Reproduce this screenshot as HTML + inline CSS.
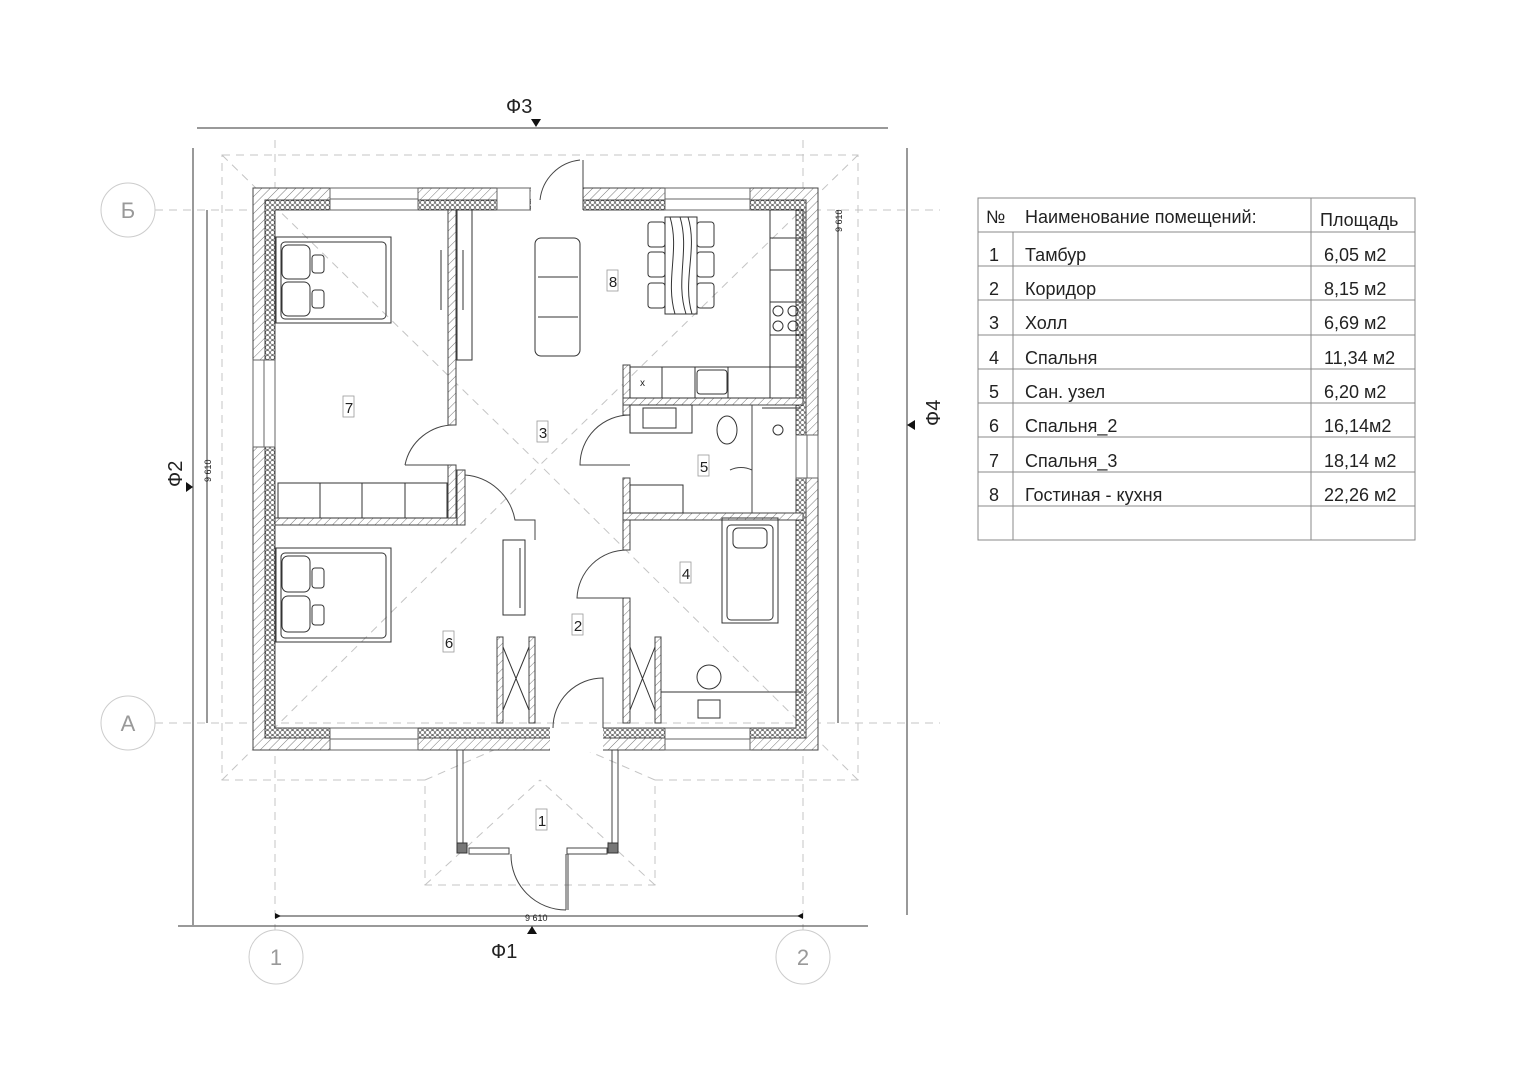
<!DOCTYPE html>
<html><head><meta charset="utf-8"><style>
html,body{margin:0;padding:0;background:#fff;}
svg{display:block;}
text{font-family:"Liberation Sans","DejaVu Sans",sans-serif;fill:#222;}
</style></head><body>
<svg width="1528" height="1080" viewBox="0 0 1528 1080" xmlns="http://www.w3.org/2000/svg">
<defs>
<pattern id="h" width="6" height="6" patternUnits="userSpaceOnUse" patternTransform="rotate(45)">
<rect width="6" height="6" fill="#fff"/><line x1="0" y1="0" x2="0" y2="6" stroke="#555" stroke-width="0.8"/></pattern>
<pattern id="ins" width="5" height="5" patternUnits="userSpaceOnUse">
<rect width="5" height="5" fill="#fff"/><circle cx="2.5" cy="2.5" r="2" fill="none" stroke="#444" stroke-width="0.7"/></pattern>
</defs>
<g fill="none" stroke="#c4c4c4" stroke-width="1" stroke-dasharray="8,6">
<polygon points="222,155 858,155 858,780 655,780 655,885 425,885 425,780 222,780"/>
<line x1="222" y1="155" x2="540" y2="465"/><line x1="858" y1="155" x2="540" y2="465"/>
<line x1="222" y1="780" x2="540" y2="465"/><line x1="858" y1="780" x2="540" y2="465"/>
<line x1="425" y1="885" x2="540" y2="780"/><line x1="655" y1="885" x2="540" y2="780"/>
<line x1="425" y1="780" x2="540" y2="730"/><line x1="655" y1="780" x2="540" y2="730"/>
<line x1="155" y1="210" x2="940" y2="210"/><line x1="155" y1="723" x2="940" y2="723"/>
<line x1="275" y1="140" x2="275" y2="930"/><line x1="803" y1="140" x2="803" y2="930"/>
</g>
<g fill="none" stroke="#333" stroke-width="1">
<line x1="197" y1="128" x2="888" y2="128"/><line x1="193" y1="148" x2="193" y2="925"/>
<line x1="178" y1="926" x2="868" y2="926"/><line x1="907" y1="148" x2="907" y2="915"/>
<line x1="207" y1="210" x2="207" y2="723"/><line x1="838" y1="210" x2="838" y2="723"/>
<line x1="275" y1="916" x2="803" y2="916"/>
</g>
<g fill="#111">
<polygon points="531,119 541,119 536,127"/><polygon points="186,482 186,492 193,487"/>
<polygon points="527,934 537,934 532,926"/><polygon points="915,420 915,430 907,425"/>
<polygon points="275,913 281,916 275,919"/><polygon points="803,913 797,916 803,919"/>
</g>
<g fill="none" stroke="#ccc" stroke-width="1">
<circle cx="128" cy="210" r="27"/><circle cx="128" cy="723" r="27"/>
<circle cx="276" cy="957" r="27"/><circle cx="803" cy="957" r="27"/>
</g>
<g font-size="22" text-anchor="middle">
<text x="128" y="218" style="fill:#999">Б</text><text x="128" y="731" style="fill:#999">А</text>
<text x="276" y="965" style="fill:#999">1</text><text x="803" y="965" style="fill:#999">2</text>
</g>
<g font-size="20">
<text x="506" y="113">Ф3</text><text x="491" y="958">Ф1</text>
<text transform="translate(182,487) rotate(-90)">Ф2</text>
<text transform="translate(940,426) rotate(-90)">Ф4</text>
</g>
<g font-size="9">
<text x="525" y="921">9 610</text>
<text transform="translate(211,482) rotate(-90)">9 610</text>
<text transform="translate(842,232) rotate(-90)">9 610</text>
</g>
<g stroke="#444" stroke-width="1">
<path fill="url(#h)" fill-rule="evenodd" d="M253,188 H818 V750 H253 Z M265,200 H806 V738 H265 Z"/>
<path fill="url(#ins)" fill-rule="evenodd" d="M265,200 H806 V738 H265 Z M275,210 H796 V728 H275 Z"/>
</g>
<g fill="#fff" stroke="#666" stroke-width="1">
<rect x="330" y="188" width="88" height="22"/><rect x="665" y="188" width="85" height="22"/>
<rect x="497" y="188" width="33" height="22"/>
<rect x="330" y="728" width="88" height="22"/><rect x="665" y="728" width="85" height="22"/>
<rect x="253" y="360" width="22" height="87"/><rect x="796" y="435" width="22" height="43"/>
</g>
<g stroke="#666" stroke-width="1">
<line x1="330" y1="199" x2="418" y2="199"/><line x1="665" y1="199" x2="750" y2="199"/>
<line x1="330" y1="739" x2="418" y2="739"/><line x1="665" y1="739" x2="750" y2="739"/>
<line x1="264" y1="360" x2="264" y2="447"/><line x1="807" y1="435" x2="807" y2="478"/>
</g>
<rect x="531" y="186" width="52" height="26" fill="#fff"/>
<rect x="550" y="726" width="53" height="26" fill="#fff"/>
<g fill="url(#h)" stroke="#444" stroke-width="1">
<rect x="448" y="210" width="8" height="215"/><rect x="448" y="465" width="8" height="53"/>
<rect x="275" y="518" width="190" height="7"/><rect x="457" y="470" width="8" height="55"/>
<rect x="497" y="637" width="6" height="86"/><rect x="529" y="637" width="6" height="86"/>
<rect x="623" y="365" width="7" height="50"/><rect x="623" y="478" width="7" height="72"/>
<rect x="623" y="598" width="7" height="125"/><rect x="655" y="637" width="6" height="86"/>
<rect x="623" y="398" width="180" height="7"/><rect x="623" y="513" width="180" height="7"/>
</g>
<g stroke="#444" fill="none" stroke-width="1">
<line x1="457" y1="750" x2="457" y2="848"/><line x1="463" y1="750" x2="463" y2="848"/>
<line x1="612" y1="750" x2="612" y2="848"/><line x1="618" y1="750" x2="618" y2="848"/>
<rect x="469" y="848" width="40" height="6"/><rect x="567" y="848" width="40" height="6"/>
<line x1="566" y1="854" x2="566" y2="910"/><line x1="568" y1="854" x2="568" y2="910"/>
<path d="M511,854 A55,55 0 0 0 566,910"/>
<path d="M553,728 A50,50 0 0 1 603,678 L603,728"/>
<line x1="583" y1="160" x2="583" y2="210"/><path d="M540,200 A45,45 0 0 1 580,160"/>
<path d="M405,465 A50,50 0 0 1 455,425"/><line x1="405" y1="465" x2="455" y2="465"/>
<path d="M465,475 A55,55 0 0 1 515,520 L535,520 L535,540"/>
<path d="M630,415 A50,50 0 0 0 580,465 L630,465"/>
<path d="M627,550 A50,50 0 0 0 577,598 L627,598"/>
<path d="M730,470 A25,25 0 0 1 752,470 L752,505"/>
<line x1="752" y1="405" x2="752" y2="513"/>
</g>
<g fill="#777" stroke="#333"><rect x="457" y="843" width="10" height="10"/><rect x="608" y="843" width="10" height="10"/></g>
<g fill="none" stroke="#333" stroke-width="1">
<rect x="276" y="237" width="115" height="86"/><rect x="281" y="242" width="105" height="77" rx="4"/>
<rect x="282" y="245" width="28" height="34" rx="6"/><rect x="282" y="282" width="28" height="34" rx="6"/>
<rect x="312" y="255" width="12" height="18" rx="3"/><rect x="312" y="290" width="12" height="18" rx="3"/>
<rect x="276" y="548" width="115" height="94"/><rect x="281" y="553" width="105" height="85" rx="4"/>
<rect x="282" y="556" width="28" height="36" rx="6"/><rect x="282" y="596" width="28" height="36" rx="6"/>
<rect x="312" y="568" width="12" height="20" rx="3"/><rect x="312" y="605" width="12" height="20" rx="3"/>
<rect x="722" y="518" width="56" height="105"/><rect x="727" y="525" width="46" height="95" rx="4"/>
<rect x="733" y="528" width="34" height="20" rx="5"/>
<rect x="278" y="483" width="169" height="35"/>
<line x1="320" y1="483" x2="320" y2="518"/><line x1="362" y1="483" x2="362" y2="518"/><line x1="405" y1="483" x2="405" y2="518"/>
<rect x="457" y="210" width="15" height="150"/>
<line x1="441" y1="250" x2="441" y2="310"/><line x1="463" y1="250" x2="463" y2="310"/>
<rect x="535" y="238" width="45" height="118" rx="6"/><line x1="538" y1="277" x2="578" y2="277"/><line x1="538" y1="317" x2="578" y2="317"/>
<rect x="665" y="217" width="32" height="97"/>
<path d="M670,217 C680,250 665,280 675,314 M680,217 C690,250 675,280 686,314 M688,217 C698,250 682,280 692,314"/>
<rect x="648" y="222" width="17" height="25" rx="3"/><rect x="648" y="252" width="17" height="25" rx="3"/><rect x="648" y="283" width="17" height="25" rx="3"/>
<rect x="697" y="222" width="17" height="25" rx="3"/><rect x="697" y="252" width="17" height="25" rx="3"/><rect x="697" y="283" width="17" height="25" rx="3"/>
<rect x="770" y="210" width="33" height="188"/>
<line x1="770" y1="238" x2="803" y2="238"/><line x1="770" y1="270" x2="803" y2="270"/><line x1="770" y1="302" x2="803" y2="302"/><line x1="770" y1="335" x2="803" y2="335"/><line x1="770" y1="367" x2="803" y2="367"/>
<circle cx="778" cy="311" r="5"/><circle cx="793" cy="311" r="5"/><circle cx="778" cy="326" r="5"/><circle cx="793" cy="326" r="5"/>
<rect x="630" y="367" width="140" height="31"/>
<line x1="662" y1="367" x2="662" y2="398"/><line x1="695" y1="367" x2="695" y2="398"/><line x1="728" y1="367" x2="728" y2="398"/>
<rect x="697" y="370" width="30" height="24" rx="3"/>
<rect x="643" y="408" width="33" height="20"/><rect x="630" y="405" width="62" height="28"/>
<ellipse cx="727" cy="430" rx="10" ry="14"/><rect x="630" y="485" width="53" height="28"/>
<line x1="762" y1="408" x2="800" y2="408"/><circle cx="778" cy="430" r="5"/>
<rect x="503" y="540" width="22" height="75"/><line x1="520" y1="548" x2="520" y2="608"/>
<line x1="503" y1="647" x2="529" y2="710"/><line x1="529" y1="647" x2="503" y2="710"/>
<line x1="630" y1="647" x2="655" y2="710"/><line x1="655" y1="647" x2="630" y2="710"/>
<line x1="661" y1="692" x2="803" y2="692"/><ellipse cx="709" cy="677" rx="12" ry="12"/>
<rect x="698" y="700" width="22" height="18"/>
</g>
<text x="640" y="386" font-size="10">x</text>
<g fill="#fff" stroke="#999" stroke-width="0.8">
<rect x="536" y="809" width="11" height="21"/><rect x="572" y="614" width="11" height="21"/><rect x="537" y="421" width="11" height="21"/>
<rect x="680" y="562" width="11" height="21"/><rect x="698" y="455" width="11" height="21"/><rect x="443" y="631" width="11" height="21"/>
<rect x="343" y="396" width="11" height="21"/><rect x="607" y="270" width="11" height="21"/>
</g>
<g font-size="15" text-anchor="middle">
<text x="542" y="826">1</text><text x="578" y="631">2</text><text x="543" y="438">3</text>
<text x="686" y="579">4</text><text x="704" y="472">5</text><text x="449" y="648">6</text>
<text x="349" y="413">7</text><text x="613" y="287">8</text>
</g>
<g stroke="#888" stroke-width="1" fill="none">
<rect x="978" y="198" width="437" height="342"/>
<line x1="1311" y1="198" x2="1311" y2="540"/><line x1="1013" y1="232" x2="1013" y2="540"/>
<line x1="978" y1="232" x2="1415" y2="232"/><line x1="978" y1="266" x2="1415" y2="266"/>
<line x1="978" y1="300" x2="1415" y2="300"/><line x1="978" y1="335" x2="1415" y2="335"/>
<line x1="978" y1="369" x2="1415" y2="369"/><line x1="978" y1="403" x2="1415" y2="403"/>
<line x1="978" y1="437" x2="1415" y2="437"/><line x1="978" y1="472" x2="1415" y2="472"/>
<line x1="978" y1="506" x2="1415" y2="506"/>
</g>
<g font-size="18">
<text x="986" y="223">№</text><text x="1025" y="223">Наименование помещений:</text><text x="1320" y="226">Площадь</text>
<text x="989" y="261">1</text><text x="1025" y="261">Тамбур</text><text x="1324" y="261">6,05 м2</text>
<text x="989" y="295">2</text><text x="1025" y="295">Коридор</text><text x="1324" y="295">8,15 м2</text>
<text x="989" y="329">3</text><text x="1025" y="329">Холл</text><text x="1324" y="329">6,69 м2</text>
<text x="989" y="364">4</text><text x="1025" y="364">Спальня</text><text x="1324" y="364">11,34 м2</text>
<text x="989" y="398">5</text><text x="1025" y="398">Сан. узел</text><text x="1324" y="398">6,20 м2</text>
<text x="989" y="432">6</text><text x="1025" y="432">Спальня_2</text><text x="1324" y="432">16,14м2</text>
<text x="989" y="467">7</text><text x="1025" y="467">Спальня_3</text><text x="1324" y="467">18,14 м2</text>
<text x="989" y="501">8</text><text x="1025" y="501">Гостиная - кухня</text><text x="1324" y="501">22,26 м2</text>
</g>
</svg>
</body></html>
